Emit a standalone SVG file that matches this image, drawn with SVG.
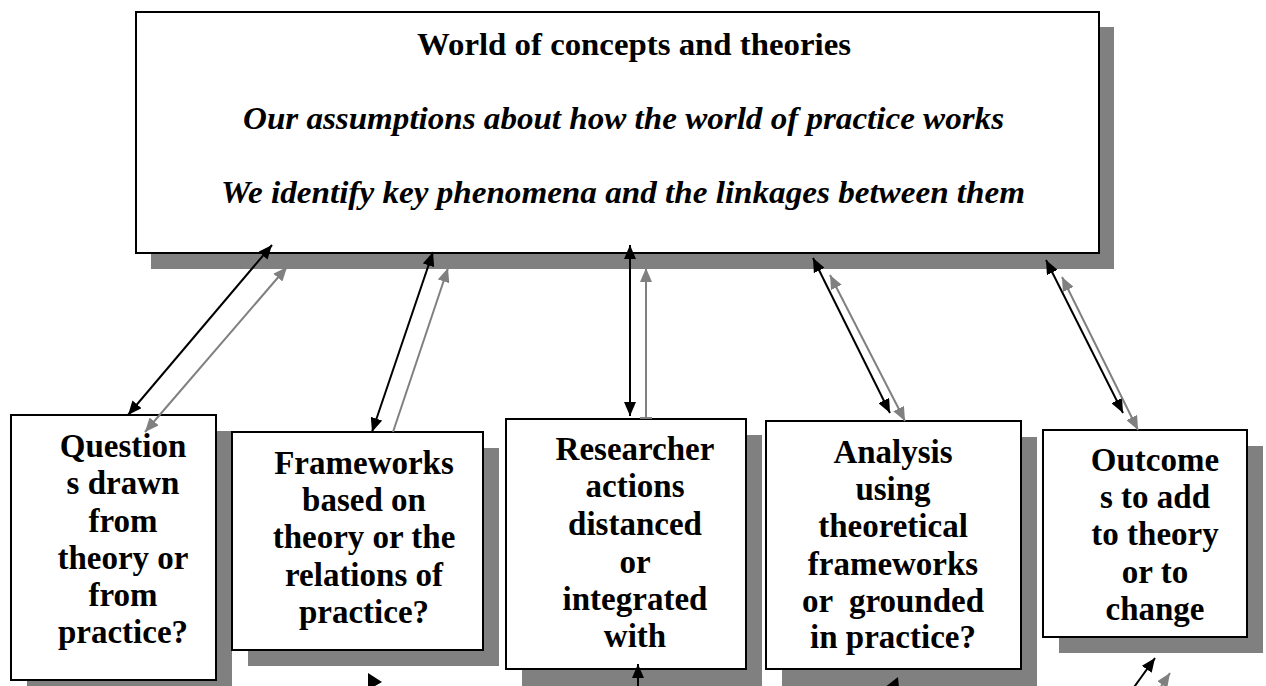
<svg xmlns="http://www.w3.org/2000/svg" width="1266" height="686" viewBox="0 0 1266 686">
<style>
.shadow{fill:#808080}
.box{fill:#ffffff;stroke:#000000;stroke-width:2}
.t{font-family:"Liberation Serif","DejaVu Serif",serif;font-weight:bold;fill:#000000}
.bt{font-size:33px;text-anchor:middle}
.it{font-style:italic}
.blk{stroke:#000000;stroke-width:2;fill:none}
.gry{stroke:#808080;stroke-width:2;fill:none}
</style>
<defs>
<marker id="hb" viewBox="0 0 14 12" refX="14" refY="6" markerWidth="14" markerHeight="12" markerUnits="userSpaceOnUse" orient="auto-start-reverse"><path d="M0,0 L14,6 L0,12 z" fill="#000000"/></marker>
<marker id="hg" viewBox="0 0 14 12" refX="14" refY="6" markerWidth="14" markerHeight="12" markerUnits="userSpaceOnUse" orient="auto-start-reverse"><path d="M0,0 L14,6 L0,12 z" fill="#808080"/></marker>
</defs>
<rect width="1266" height="686" fill="#ffffff"/>

<g id="world">
<rect class="shadow" x="151" y="27" width="963" height="242"/>
<rect class="box" x="136" y="12" width="963" height="241"/>
<text class="t" x="417" y="55" font-size="32" textLength="434" lengthAdjust="spacingAndGlyphs">World of concepts and theories</text>
<text class="t it" x="243" y="129" font-size="32" textLength="761" lengthAdjust="spacingAndGlyphs">Our assumptions about how the world of practice works</text>
<text class="t it" x="221" y="203" font-size="32" textLength="804" lengthAdjust="spacingAndGlyphs">We identify key phenomena and the linkages between them</text>
</g>

<g id="questions">
<rect class="shadow" x="27" y="431" width="205" height="265"/>
<rect class="box" x="11" y="415" width="205" height="265"/>
<text class="t bt"><tspan x="123" y="457">Question</tspan><tspan x="123" y="494">s drawn</tspan><tspan x="123" y="532">from</tspan><tspan x="123" y="569">theory or</tspan><tspan x="123" y="606">from</tspan><tspan x="123" y="643">practice?</tspan></text>
</g>

<g id="frameworks">
<rect class="shadow" x="248" y="448" width="251" height="218"/>
<rect class="box" x="232" y="432" width="251" height="218"/>
<text class="t bt"><tspan x="364" y="474">Frameworks</tspan><tspan x="364" y="511">based on</tspan><tspan x="364" y="548">theory or the</tspan><tspan x="364" y="586">relations of</tspan><tspan x="364" y="623">practice?</tspan></text>
</g>

<g id="researcher">
<rect class="shadow" x="522" y="435" width="240" height="260"/>
<rect class="box" x="506" y="419" width="240" height="250"/>
<text class="t bt"><tspan x="635" y="460">Researcher</tspan><tspan x="635" y="497">actions</tspan><tspan x="635" y="535">distanced</tspan><tspan x="635" y="573">or</tspan><tspan x="635" y="610">integrated</tspan><tspan x="635" y="647">with</tspan></text>
</g>

<g id="analysis">
<rect class="shadow" x="782" y="437" width="255" height="260"/>
<rect class="box" x="766" y="421" width="255" height="248"/>
<text class="t bt"><tspan x="893" y="463">Analysis</tspan><tspan x="893" y="500">using</tspan><tspan x="893" y="537">theoretical</tspan><tspan x="893" y="575">frameworks</tspan><tspan x="893" y="612" style="white-space:pre">or  grounded</tspan><tspan x="893" y="648">in practice?</tspan></text>
</g>

<g id="outcomes">
<rect class="shadow" x="1059" y="446" width="204" height="207"/>
<rect class="box" x="1043" y="430" width="204" height="207"/>
<text class="t bt"><tspan x="1155" y="471">Outcome</tspan><tspan x="1155" y="508">s to add</tspan><tspan x="1155" y="545">to theory</tspan><tspan x="1155" y="583">or to</tspan><tspan x="1155" y="620">change</tspan></text>
</g>

<g id="connectors">
<line class="blk" x1="128" y1="415" x2="272" y2="245" marker-start="url(#hb)" marker-end="url(#hb)"/>
<line class="gry" x1="145" y1="432" x2="287" y2="267" marker-start="url(#hg)" marker-end="url(#hg)"/>
<line class="blk" x1="372" y1="432" x2="433" y2="252" marker-start="url(#hb)" marker-end="url(#hb)"/>
<line class="gry" x1="393" y1="432" x2="448" y2="268" marker-end="url(#hg)"/>
<line class="blk" x1="630" y1="416" x2="630" y2="245" marker-start="url(#hb)" marker-end="url(#hb)"/>
<line class="gry" x1="646" y1="418" x2="646" y2="268" marker-end="url(#hg)"/>
<line class="gry" x1="640" y1="418" x2="652" y2="418"/>
<line class="blk" x1="890" y1="413" x2="813" y2="258" marker-start="url(#hb)" marker-end="url(#hb)"/>
<line class="gry" x1="905" y1="421" x2="830" y2="275" marker-start="url(#hg)" marker-end="url(#hg)"/>
<line class="blk" x1="1123" y1="413" x2="1046" y2="260" marker-start="url(#hb)" marker-end="url(#hb)"/>
<line class="gry" x1="1138" y1="430" x2="1062" y2="277" marker-start="url(#hg)" marker-end="url(#hg)"/>
<polygon points="368,673 382,682 368,690" fill="#000000"/>
<line class="blk" x1="638" y1="700" x2="638" y2="664" marker-end="url(#hb)"/>
<polygon points="656,681 651,690 661,690" fill="#808080"/>
<polygon points="898,677 884,688 899,688" fill="#000000"/>
<line class="blk" x1="1132" y1="690" x2="1155" y2="658" marker-end="url(#hb)"/>
<line class="gry" x1="1152" y1="700" x2="1170" y2="673" marker-end="url(#hg)"/>
</g>
</svg>
